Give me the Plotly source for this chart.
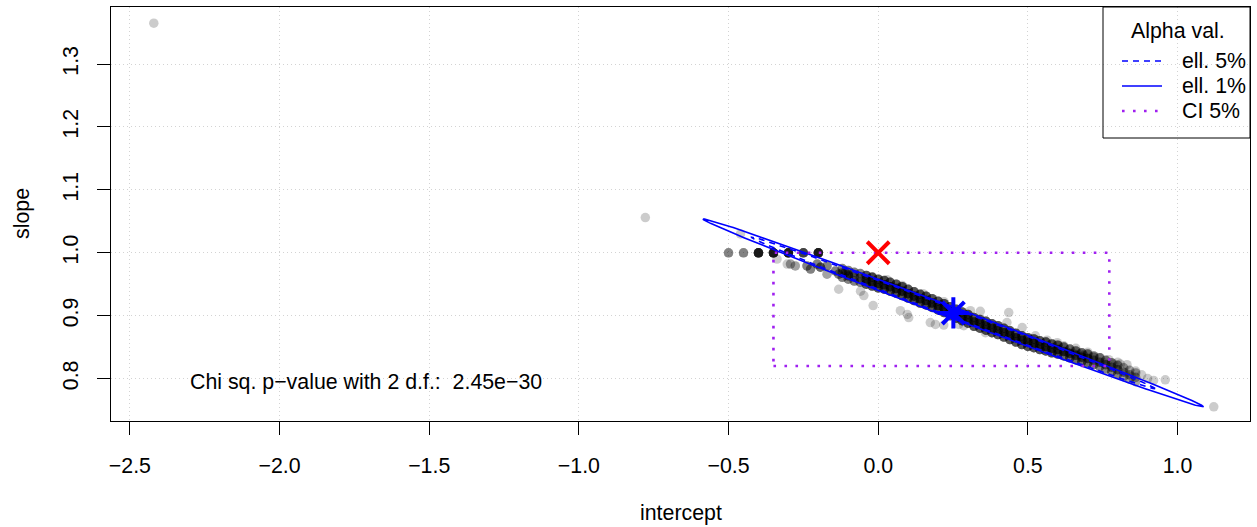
import numpy as np
import plotly.graph_objects as go

# ---------------- data ----------------
# bootstrap estimates, scattered / isolated ones: unique (intercept, slope) pairs and multiplicity
boot_intercept = [
    -2.420, -0.778, -0.460, 1.121, 0.959,
    -0.50, -0.45, -0.40, -0.35, -0.30, -0.25, -0.20,
    -0.338, -0.304, -0.293, -0.277, -0.238, -0.226, -0.204, -0.193, -0.171, -0.171,
    -0.143, -0.132, -0.110, -0.099, -0.132, -0.059, -0.048, -0.017,
    0.074, 0.097, 0.102, 0.174, 0.191, 0.219, 0.269, 0.286, 0.358,
    0.430, 0.436, 0.481, 0.525, 0.564, 0.598, 0.631, 0.653, 0.675, 0.686,
    0.720, 0.742, 0.753, 0.787, 0.809, 0.831, 0.826, 0.848,
    0.030, 0.080, 0.150, 0.220, 0.308, 0.341, -0.020,
    0.62, 0.66, 0.70, 0.77, 0.80, 0.86, 0.88, 0.90, 0.92,
]
boot_slope = [
    1.365, 1.056, 1.030, 0.755, 0.798,
    1.000, 1.000, 1.000, 1.000, 1.000, 1.000, 1.000,
    0.990, 0.982, 0.982, 0.979, 0.979, 0.974, 0.982, 0.977, 0.979, 0.966,
    0.971, 0.966, 0.969, 0.963, 0.942, 0.939, 0.932, 0.916,
    0.908, 0.902, 0.897, 0.889, 0.886, 0.885, 0.886, 0.884, 0.873,
    0.889, 0.905, 0.881, 0.868, 0.861, 0.857, 0.842, 0.840, 0.839, 0.837,
    0.834, 0.833, 0.825, 0.823, 0.823, 0.822, 0.809, 0.803,
    0.957, 0.948, 0.935, 0.922, 0.908, 0.907, 0.962,
    0.852, 0.848, 0.842, 0.830, 0.826, 0.812, 0.806, 0.800, 0.797,
]
boot_count = [
    1, 1, 1, 1, 1,
    3, 3, 10, 10, 10, 6, 10,
    1, 1, 2, 2, 3, 3, 3, 4, 3, 2,
    3, 3, 3, 3, 1, 1, 1, 1,
    1, 1, 1, 1, 1, 1, 1, 1, 1,
    1, 1, 1, 1, 1, 1, 2, 1, 1, 2,
    2, 1, 1, 1, 1, 1, 1, 1,
    1, 1, 1, 1, 1, 1, 1,
    1, 1, 1, 1, 1, 1, 1, 1, 1,
]

# dense core of the bootstrap cloud: intercepts, upper / middle / lower slope values, multiplicity
core_intercept = [
    -0.12, -0.10, -0.08, -0.06, -0.04, -0.02, 0.00, 0.02, 0.04, 0.06,
    0.08, 0.10, 0.12, 0.14, 0.16, 0.18, 0.20, 0.22, 0.24, 0.26,
    0.28, 0.30, 0.32, 0.34, 0.36, 0.38, 0.40, 0.42, 0.44, 0.46,
    0.48, 0.50, 0.52, 0.54, 0.56, 0.58, 0.60, 0.62, 0.64, 0.66,
    0.68, 0.70, 0.72, 0.74, 0.76, 0.78, 0.80, 0.82, 0.84, 0.86,
]
core_slope_hi = [
    0.975, 0.972, 0.969, 0.967, 0.964, 0.961, 0.958, 0.956, 0.953, 0.950,
    0.946, 0.942, 0.938, 0.934, 0.931, 0.927, 0.923, 0.919, 0.914, 0.910,
    0.906, 0.902, 0.897, 0.894, 0.891, 0.887, 0.884, 0.880, 0.876, 0.872,
    0.868, 0.865, 0.863, 0.860, 0.858, 0.855, 0.853, 0.850, 0.847, 0.844,
    0.841, 0.839, 0.836, 0.833, 0.829, 0.825, 0.821, 0.817, 0.813, 0.809,
]
core_slope_mid = [
    0.968, 0.965, 0.962, 0.960, 0.957, 0.954, 0.951, 0.949, 0.946, 0.943,
    0.939, 0.935, 0.931, 0.927, 0.924, 0.920, 0.916, 0.912, 0.907, 0.903,
    0.899, 0.895, 0.890, 0.887, 0.884, 0.880, 0.877, 0.873, 0.869, 0.865,
    0.861, 0.858, 0.856, 0.853, 0.851, 0.848, 0.846, 0.843, 0.840, 0.837,
    0.834, 0.832, 0.829, 0.826, 0.822, 0.818, 0.814, 0.810, 0.806, 0.802,
]
core_slope_lo = [
    0.961, 0.958, 0.955, 0.953, 0.950, 0.947, 0.944, 0.942, 0.939, 0.936,
    0.932, 0.928, 0.924, 0.920, 0.917, 0.913, 0.909, 0.905, 0.900, 0.896,
    0.892, 0.888, 0.883, 0.880, 0.877, 0.873, 0.870, 0.866, 0.862, 0.858,
    0.854, 0.851, 0.849, 0.846, 0.844, 0.841, 0.839, 0.836, 0.833, 0.830,
    0.827, 0.825, 0.822, 0.819, 0.815, 0.811, 0.807, 0.803, 0.799, 0.795,
]
core_count = [
    3, 3, 3, 3, 5, 5, 5, 5, 5, 5,
    5, 5, 5, 5, 5, 5, 5, 5, 5, 5,
    5, 5, 5, 5, 5, 5, 5, 5, 5, 5,
    5, 5, 5, 5, 5, 5, 5, 4, 4, 4,
    4, 4, 3, 3, 3, 3, 3, 2, 2, 2,
]

# confidence ellipse parameters (centre, standard deviations, correlation)
ell_center = [0.251, 0.9043]
ell_sd = [0.2755, 0.04926]
ell_corr = -0.998
ell_names = ["ell. 5%", "ell. 1%"]
ell_chisq = [5.991, 9.210]

# 5% confidence intervals (rectangle)
ci_intercept = [-0.35, 0.772]
ci_slope = [0.82, 1.00]

# null hypothesis point and estimate
null_point = [0.0, 1.0]
est_point = [0.251, 0.9043]

x_ticks = [-2.5, -2.0, -1.5, -1.0, -0.5, 0.0, 0.5, 1.0]
y_ticks = [0.8, 0.9, 1.0, 1.1, 1.2, 1.3]
x_range = [-2.563, 1.242]
y_range = [0.7325, 1.3908]

pvalue_text = "Chi sq. p\u2212value with 2 d.f.:\u00a0 2.45e\u221230"
pvalue_pos = [-1.711, 0.7946]

FONT = "Liberation Sans, Arial, Helvetica, sans-serif"
FS = 21.33

# ---------------- figure ----------------
fig = go.Figure()

bx = np.concatenate([
    np.repeat(np.array(boot_intercept), boot_count),
    np.repeat(np.array(core_intercept), core_count),
    np.repeat(np.array(core_intercept), core_count),
    np.repeat(np.array(core_intercept), core_count),
])
by = np.concatenate([
    np.repeat(np.array(boot_slope), boot_count),
    np.repeat(np.array(core_slope_hi), core_count),
    np.repeat(np.array(core_slope_mid), core_count),
    np.repeat(np.array(core_slope_lo), core_count),
])
fig.add_trace(go.Scatter(
    x=bx, y=by, mode="markers", showlegend=False, hoverinfo="skip",
    marker=dict(size=9.5, color="rgba(0,0,0,0.2)", line=dict(width=0)),
))

t = np.linspace(0, 2 * np.pi, 400)
sx, sy = ell_sd
r = ell_corr
ell_dash = ["6px,5px", "solid"]
for name, q, dash in zip(ell_names, ell_chisq, ell_dash):
    s = np.sqrt(q)
    ex = ell_center[0] + s * sx * np.cos(t)
    ey = ell_center[1] + s * (r * sy * np.cos(t) + sy * np.sqrt(1 - r * r) * np.sin(t))
    fig.add_trace(go.Scatter(
        x=ex, y=ey, mode="lines", name=name, showlegend=False, hoverinfo="skip",
        line=dict(color="#0000FF", width=1.6, dash=dash),
    ))

rx = [ci_intercept[0], ci_intercept[1], ci_intercept[1], ci_intercept[0], ci_intercept[0]]
ry = [ci_slope[0], ci_slope[0], ci_slope[1], ci_slope[1], ci_slope[0]]
fig.add_trace(go.Scatter(
    x=rx, y=ry, mode="lines", name="CI 5%", showlegend=False, hoverinfo="skip",
    line=dict(color="#A020F0", width=2.6, dash="2.6px,8.4px"),
))

fig.add_trace(go.Scatter(
    x=[null_point[0]], y=[null_point[1]], mode="markers", showlegend=False, hoverinfo="skip",
    marker=dict(symbol="x-thin", size=22, color="#FF0000", line=dict(color="#FF0000", width=4)),
))
fig.add_trace(go.Scatter(
    x=[est_point[0]], y=[est_point[1]], mode="markers", showlegend=False, hoverinfo="skip",
    marker=dict(symbol="asterisk", size=26, color="#0000FF", line=dict(color="#0000FF", width=4)),
))

# plot area geometry (pixels)
W, H = 1257, 527
ML, MR, MT, MB = 111, 7, 7, 106
PW, PH = W - ML - MR, H - MT - MB


def px(xp):
    return (xp - ML) / PW


def py(yp):
    return 1 - (yp - MT) / PH


shapes = []
annotations = []

# legend (drawn by hand in R style)
shapes.append(dict(type="rect", xref="paper", yref="paper",
                   x0=px(1103), x1=1.0, y0=py(138), y1=1.0,
                   line=dict(color="black", width=1), fillcolor="rgba(0,0,0,0)", layer="above"))
annotations.append(dict(text="Alpha val.", xref="paper", yref="paper", x=px(1178), y=py(31),
                        xanchor="center", yanchor="middle", showarrow=False,
                        font=dict(family=FONT, size=FS, color="black")))
leg_items = [("ell. 5%", "#0000FF", "6px,5px", 1.6, 61),
             ("ell. 1%", "#0000FF", "solid", 1.6, 86),
             ("CI 5%", "#A020F0", "2.6px,8.4px", 2.6, 111)]
for label, col, dash, w, yp in leg_items:
    shapes.append(dict(type="line", xref="paper", yref="paper",
                       x0=px(1122), x1=px(1162), y0=py(yp), y1=py(yp),
                       line=dict(color=col, width=w, dash=dash), layer="above"))
    annotations.append(dict(text=label, xref="paper", yref="paper", x=px(1180), y=py(yp),
                            xanchor="left", yanchor="middle", showarrow=False,
                            font=dict(family=FONT, size=FS, color="black")))

annotations.append(dict(text=pvalue_text, x=pvalue_pos[0], y=pvalue_pos[1], xref="x", yref="y",
                        xanchor="center", yanchor="middle", showarrow=False,
                        font=dict(family=FONT, size=FS, color="black")))
annotations.append(dict(text="intercept", xref="paper", yref="paper", x=0.5, y=py(513),
                        xanchor="center", yanchor="middle", showarrow=False,
                        font=dict(family=FONT, size=FS, color="black")))
annotations.append(dict(text="slope", xref="paper", yref="paper", x=px(22), y=0.5,
                        xanchor="center", yanchor="middle", showarrow=False, textangle=-90,
                        font=dict(family=FONT, size=FS, color="black")))

axis_common = dict(
    showgrid=True, gridcolor="#D3D3D3", gridwidth=1, griddash="1px,3px",
    zeroline=False, showline=True, linecolor="black", linewidth=1, mirror=True,
    ticks="outside", ticklen=13, tickwidth=1, tickcolor="black",
    tickfont=dict(family=FONT, size=FS, color="black"), tickformat=".1f",
)

fig.update_layout(
    width=W, height=H,
    margin=dict(l=ML, r=MR, t=MT, b=MB, pad=0),
    paper_bgcolor="white", plot_bgcolor="white",
    xaxis=dict(range=x_range, tickvals=x_ticks, ticklabelstandoff=12, **axis_common),
    yaxis=dict(range=y_range, tickvals=y_ticks, tickangle=-90, ticklabelstandoff=10, **axis_common),
    shapes=shapes, annotations=annotations, showlegend=False,
)

fig.write_html("out.html", config={"displayModeBar": False},
               post_script="document.body.style.margin='0';")
